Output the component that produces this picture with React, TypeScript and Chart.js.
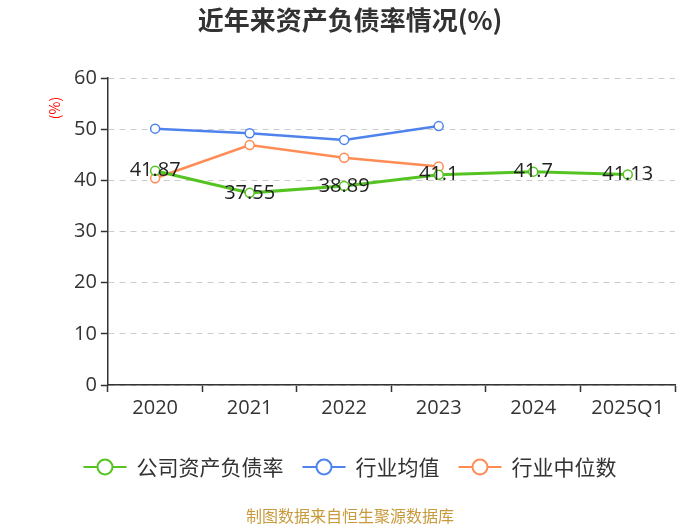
import React, { useEffect, useRef } from "react";
import { Chart, registerables } from "chart.js";

Chart.register(...registerables);

const categories = ["2020", "2021", "2022", "2023", "2024", "2025Q1"];
const companyRatio = [41.87, 37.55, 38.89, 41.1, 41.7, 41.13];
const industryAvg = [50.1, 49.2, 47.9, 50.6, null, null];
const industryMedian = [40.4, 46.9, 44.4, 42.7, null, null];
const yTicks = [0, 10, 20, 30, 40, 50, 60];

const seriesNames = ["公司资产负债率", "行业均值", "行业中位数"];
const seriesColors = ["#55c423", "#4e83ee", "#ff8c55"];
const titleText = "近年来资产负债率情况(%)";
const sourceText = "制图数据来自恒生聚源数据库";
const unitText = "(%)";

const FONT = '"Open Sans", "Noto Sans CJK SC", sans-serif';
const CJK = '"Noto Sans CJK SC", sans-serif';

const decorPlugin = {
  id: "decor",
  afterDraw(chart: any) {
    const ctx = chart.ctx;
    ctx.save();
    ctx.fillStyle = "#333333";
    ctx.font = `bold 26px ${CJK}`;
    ctx.textAlign = "center";
    ctx.textBaseline = "middle";
    ctx.fillText(titleText, 350, 20);
    ctx.fillStyle = "#c99a3c";
    ctx.font = `16px ${CJK}`;
    ctx.fillText(sourceText, 350, 516);

    // legend
    const iconW = 43;
    const gapText = 10;
    const gapItem = 19;
    const legendY = 467;
    ctx.font = `21px ${CJK}`;
    const widths = seriesNames.map((n) => ctx.measureText(n).width);
    const total =
      widths.reduce((a, b) => a + b, 0) +
      seriesNames.length * (iconW + gapText) +
      (seriesNames.length - 1) * gapItem;
    let x = 350 - total / 2;
    seriesNames.forEach((name, i) => {
      const color = seriesColors[i];
      ctx.strokeStyle = color;
      ctx.lineWidth = 2;
      ctx.beginPath();
      ctx.moveTo(x, legendY);
      ctx.lineTo(x + iconW, legendY);
      ctx.stroke();
      ctx.beginPath();
      ctx.arc(x + iconW / 2, legendY, 7.5, 0, Math.PI * 2);
      ctx.fillStyle = "#ffffff";
      ctx.fill();
      ctx.stroke();
      ctx.fillStyle = "#333333";
      ctx.textAlign = "left";
      ctx.fillText(name, x + iconW + gapText, legendY);
      x += iconW + gapText + widths[i] + gapItem;
    });

    ctx.translate(55, 108);
    ctx.rotate(-Math.PI / 2);
    ctx.textAlign = "center";
    ctx.fillStyle = "#ff0000";
    ctx.font = `14px ${CJK}`;
    ctx.fillText(unitText, 0, 0);
    ctx.restore();
  },
};

const labelPlugin = {
  id: "valueLabels",
  afterDatasetsDraw(chart: any) {
    const ctx = chart.ctx;
    const meta = chart.getDatasetMeta(0);
    ctx.save();
    ctx.fillStyle = "#222222";
    ctx.font = `20px ${FONT}`;
    ctx.textAlign = "center";
    ctx.textBaseline = "middle";
    meta.data.forEach((pt: any, i: number) => {
      const v = companyRatio[i];
      if (v == null) return;
      ctx.fillText(String(v), pt.x, pt.y);
    });
    ctx.restore();
  },
};

export default function App() {
  const ref = useRef<HTMLCanvasElement>(null);
  useEffect(() => {
    document.body.style.margin = "0";
    const mk = (label: string, data: any[], color: string, width: number) => ({
      label,
      data,
      borderColor: color,
      backgroundColor: "#ffffff",
      borderWidth: width,
      pointRadius: 4.5,
      pointBorderWidth: 1.5,
      pointBackgroundColor: "#ffffff",
      pointBorderColor: color,
      spanGaps: false,
      tension: 0,
    });
    const chart = new Chart(ref.current!, {
      type: "line",
      data: {
        labels: categories,
        datasets: [
          mk(seriesNames[0], companyRatio, seriesColors[0], 3),
          mk(seriesNames[1], industryAvg, seriesColors[1], 2.5),
          mk(seriesNames[2], industryMedian, seriesColors[2], 2.5),
        ],
      },
      options: {
        animation: false,
        responsive: false,
        devicePixelRatio: 1,
        layout: { padding: { top: 78, left: 70, right: 25, bottom: 80 } },
        plugins: {
          title: { display: false },
          tooltip: { enabled: false },
          legend: { display: false },
        },
        scales: {
          x: {
            type: "category",
            offset: true,
            afterFit: (scale: any) => {
              scale.height = 60;
            },
            grid: {
              offset: true,
              drawOnChartArea: false,
              drawTicks: true,
              tickLength: 7,
              tickColor: "#333333",
              tickWidth: 1.5,
            },
            border: { color: "#333333", width: 1.5 },
            ticks: {
              color: "#333333",
              font: { size: 20, family: FONT },
              padding: 4,
              maxRotation: 0,
            },
          },
          y: {
            min: 0,
            max: 60,
            afterBuildTicks: (scale: any) => {
              scale.ticks = yTicks.map((v) => ({ value: v }));
            },
            grid: {
              color: "#cccccc",
              lineWidth: 1,
              drawTicks: true,
              tickLength: 7,
              tickColor: "#333333",
              tickWidth: 1.5,
              tickBorderDash: [],
            },
            border: { color: "#333333", width: 1.5, dash: [6, 5] },
            ticks: {
              color: "#333333",
              font: { size: 20, family: FONT },
              padding: 4,
            },
          },
        },
      },
      plugins: [labelPlugin, decorPlugin],
    } as any);
    return () => chart.destroy();
  }, []);
  return (
    <div style={{ width: 700, height: 525 }}>
      <canvas ref={ref} width={700} height={525} style={{ display: "block" }} />
    </div>
  );
}
